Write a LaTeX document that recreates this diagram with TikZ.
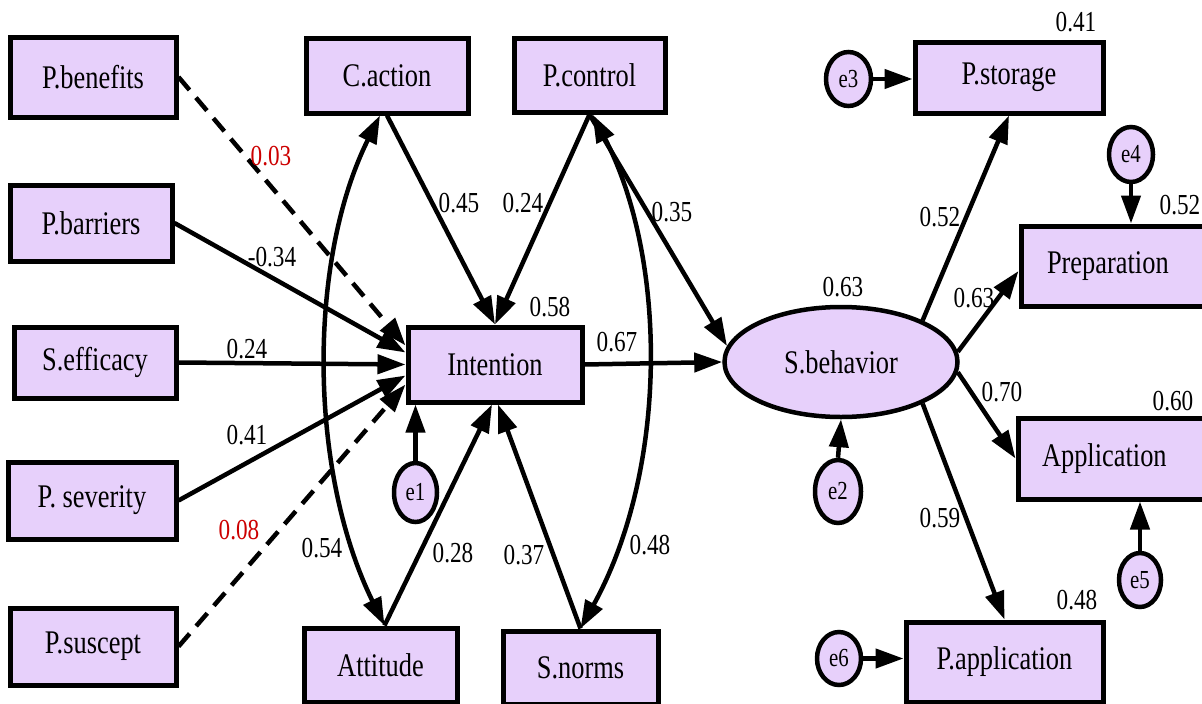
\documentclass[tikz,border=0pt]{standalone}
\usepackage{fontspec}
\setmainfont{Liberation Serif}
\usetikzlibrary{arrows.meta,shapes.geometric,calc}
\definecolor{boxfill}{RGB}{231,208,251}
\definecolor{sigred}{RGB}{204,0,0}
\newcommand\nt[1]{\scalebox{0.8}[1]{#1}}
\tikzset{
  var/.style={draw, line width=5pt, fill=boxfill, rectangle, inner sep=0pt, font=\fontsize{33}{36}\selectfont},
  lat/.style={draw, line width=4.5pt, fill=boxfill, ellipse, inner sep=0pt, font=\fontsize{33}{36}\selectfont},
  err/.style={draw, line width=4.5pt, fill=boxfill, ellipse, inner sep=0pt, font=\fontsize{26}{28}\selectfont},
  conn/.style={line width=4.5pt, -{Triangle[length=28pt,width=19pt]}},
  dconn/.style={conn, dash pattern=on 17pt off 10pt},
  biconn/.style={line width=4.5pt, {Triangle[length=28pt,width=19pt]}-{Triangle[length=28pt,width=19pt]}},
  coef/.style={font=\fontsize{29}{32}\selectfont, inner sep=0pt},
  coefred/.style={coef, text=sigred},
}
\begin{document}
\begin{tikzpicture}[x=1pt,y=-1pt]
\useasboundingbox (0,0) rectangle (1202,704);
% left predictors
\node[var, minimum width=166pt, minimum height=80pt] (pb) at (93,77) {\nt{P.benefits}};
\node[var, minimum width=162pt, minimum height=76pt] (pbar) at (91,223) {\nt{P.barriers}};
\node[var, minimum width=162pt, minimum height=71pt] (se) at (95,362.5) {\nt{S.efficacy}};
\node[var, minimum width=168pt, minimum height=77pt] (ps) at (92,500.5) {\nt{P. severity}};
\node[var, minimum width=166pt, minimum height=77pt] (psu) at (93,646.5) {\nt{P.suscept}};
% middle
\node[var, minimum width=162pt, minimum height=75pt] (ca) at (387,75.5) {\nt{C.action}};
\node[var, minimum width=151pt, minimum height=74pt] (pc) at (589.5,75) {\nt{P.control}};
\node[var, minimum width=174pt, minimum height=75pt] (int) at (495,364.5) {\nt{Intention}};
\node[var, minimum width=153pt, minimum height=74pt] (att) at (380.5,665) {\nt{Attitude}};
\node[var, minimum width=155pt, minimum height=73pt] (sn) at (580.5,667.5) {\nt{S.norms}};
\node[err, minimum width=43pt, minimum height=59pt] (e1) at (415.5,492.5) {\nt{e1}};
% right
\node[lat, minimum width=233pt, minimum height=110pt] (sb) at (841,362) {\nt{S.behavior}};
\node[var, minimum width=188pt, minimum height=71pt] (pst) at (1009,77.5) {\nt{P.storage}};
\node[var, text width=137pt, align=left, inner xsep=26pt, minimum height=80pt] (prep) at (1115.5,266) {\nt{Preparation}};
\node[var, text width=144pt, align=left, inner xsep=24pt, minimum height=81pt] (app) at (1114,458.5) {\nt{Application}};
\node[var, minimum width=197pt, minimum height=80pt] (pap) at (1004.5,662) {\nt{P.application}};
\node[err, minimum width=46pt, minimum height=63pt] (e2) at (838,491.5) {\nt{e2}};
\node[err, minimum width=45pt, minimum height=54pt] (e3) at (848.5,79) {\nt{e3}};
\node[err, minimum width=44pt, minimum height=55pt] (e4) at (1131,154.5) {\nt{e4}};
\node[err, minimum width=42pt, minimum height=54pt] (e5) at (1140,580) {\nt{e5}};
\node[err, minimum width=44pt, minimum height=53pt] (e6) at (839,658.5) {\nt{e6}};
% paths into Intention
\draw[dconn] (pb.east) -- ($(int.west)+(0,-19)$);
\draw[conn] (pbar.east) -- ($(int.west)+(0,-12)$);
\draw[conn] (se.east) -- (int.west);
\draw[conn] (ps.east) -- ($(int.west)+(0,11)$);
\draw[dconn] (psu.east) -- ($(int.west)+(0,20)$);
\draw[conn] (ca.south) -- (int.north);
\draw[conn] (pc.south) -- (int.north);
\draw[conn] ([xshift=4pt]att.north) -- ([xshift=-3pt]int.south);
\draw[conn] (sn.north) -- ([xshift=3pt]int.south);
\draw[conn] (e1.north) -- (e1.north |- int.south);
% covariances
\draw[biconn] ([xshift=-7pt]ca.south) .. controls (308,260) and (308,470) .. ([xshift=4pt]att.north);
\draw[biconn] ([xshift=3pt]pc.south) .. controls (668,260) and (668,470) .. (sn.north);
% into S.behavior
\draw[conn] (int.east) -- (sb.west);
\draw[conn] (pc.south) -- (sb.172);
\draw[conn] (e2.north) -- (sb.south);
% out of S.behavior
\draw[conn] (sb.27) -- (pst.south);
\draw[conn] (sb.5) -- ([yshift=-5pt]prep.west);
\draw[conn] (sb.-5) -- (app.west);
\draw[conn] (sb.-27) -- (pap.north);
% errors on indicators
\draw[conn] (e3.east) -- (e3.east -| pst.west);
\draw[conn] (e4.south) -- (e4.south |- prep.north);
\draw[conn] (e5.north) -- (e5.north |- app.south);
\draw[conn] (e6.east) -- (e6.east -| pap.west);
% coefficients
\node[coefred] (l1) at (271,156) {\nt{0.03}};
\node[coef] (l2) at (272,257) {\nt{-0.34}};
\node[coef] (l3) at (247,349) {\nt{0.24}};
\node[coef] (l4) at (247,435) {\nt{0.41}};
\node[coefred] (l5) at (239,530) {\nt{0.08}};
\node[coef] (l6) at (322,548) {\nt{0.54}};
\node[coef] (l7) at (459,203) {\nt{0.45}};
\node[coef] (l8) at (523,203) {\nt{0.24}};
\node[coef] (l9) at (672,212) {\nt{0.35}};
\node[coef] (l10) at (550,307) {\nt{0.58}};
\node[coef] (l11) at (617,342) {\nt{0.67}};
\node[coef] (l12) at (453,553) {\nt{0.28}};
\node[coef] (l13) at (524,555) {\nt{0.37}};
\node[coef] (l14) at (650,545) {\nt{0.48}};
\node[coef] (l15) at (843,287) {\nt{0.63}};
\node[coef] (l16) at (940,217) {\nt{0.52}};
\node[coef] (l17) at (974,298) {\nt{0.63}};
\node[coef] (l18) at (1076,22) {\nt{0.41}};
\node[coef] (l19) at (1180,205) {\nt{0.52}};
\node[coef] (l20) at (1002,392) {\nt{0.70}};
\node[coef] (l21) at (1173,401) {\nt{0.60}};
\node[coef] (l22) at (940,518) {\nt{0.59}};
\node[coef] (l23) at (1077,600) {\nt{0.48}};
\end{tikzpicture}
\end{document}
